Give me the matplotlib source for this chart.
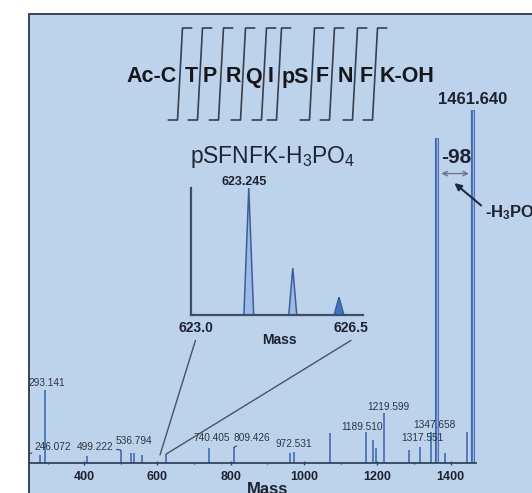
import numpy as np
import matplotlib
matplotlib.use('Agg')
import matplotlib.pyplot as plt
from matplotlib.patches import Rectangle, ConnectionPatch

plt.rcParams['font.family'] = ['Liberation Sans', 'DejaVu Sans']
plt.rcParams['mathtext.fontset'] = 'custom'
plt.rcParams['mathtext.rm'] = 'Liberation Sans'
plt.rcParams['mathtext.bf'] = 'Liberation Sans:bold'
plt.rcParams['mathtext.it'] = 'Liberation Sans:italic'

# ---- data ----
peak_mz = [246.072, 279.5, 293.141, 407.8, 499.222, 527.9, 536.794, 557.9, 623.245,
           740.405, 809.426, 962.0, 972.531, 1071.0, 1169.5, 1189.510, 1196.8,
           1219.599, 1286.9, 1317.551, 1347.658, 1363.640, 1385.1, 1445.2, 1461.640]
peak_int = [2.5, 2.3, 20.7, 2.0, 3.7, 2.8, 2.8, 2.3, 2.5,
            4.2, 4.5, 2.8, 3.1, 8.5, 8.8, 6.5, 4.2,
            14.2, 3.7, 4.5, 8.8, 92.0, 2.8, 8.8, 100.0]

label_mz = [246.072, 293.141, 499.222, 536.794, 740.405, 809.426, 972.531,
            1189.510, 1219.599, 1317.551, 1347.658]

parent_mz = 1461.640
neutral_loss = 98

x_ticks = [400, 600, 800, 1000, 1200, 1400]
x_minor = [300, 500, 700, 900, 1100, 1300]

# zoomed isotope cluster (inset)
inset_mz = [624.20, 625.19, 626.23]
inset_int = [100, 37, 14]
inset_halfwidth = [0.11, 0.09, 0.11]
inset_ticks = [623.0, 626.5]
inset_peak_label = '623.245'
zoom_from = 607.0

residues = ['Ac-C', 'T', 'P', 'R', 'Q', 'I', 'pS', 'F', 'N', 'F', 'K-OH']

# ---- layout (pixels) ----
W, H = 532, 493
residue_x = [152, 191, 210, 233, 253, 271, 295, 322, 345, 366, 407]
bracket_x = [180, 200, 221, 243, 264, 279, 312, 332, 355, 375]
label_off = [(25, 7), (2, 7), (-25, 3), (0, 12), (3, 10), (18, 9), (0, 8),
             (-11, 13), (4, 6), (2, 9), (3, 7)]
label_leader = [True, False, True, False, False, True, False, False, False, False, False]

panel_col = '#bdd3ec'
edge_col = '#34465e'
peak_col = '#4d73b8'
text_col = '#1c2230'

fig = plt.figure(figsize=(W / 100, H / 100), dpi=100)
fig.patch.set_facecolor('white')

# light blue panel
fig.patches.append(Rectangle((29 / W, -0.1), 1.2, 1 - 14 / H + 0.1, transform=fig.transFigure,
                             facecolor=panel_col, edgecolor=edge_col, lw=1.4, zorder=-1))

# ---- main spectrum ----
ax = fig.add_axes([29 / W, 30 / H, 503 / W, 449 / H])
ax.set_facecolor('none')
ax.set_xlim(249.3, 249.3 + 503 / 0.3663)
ax.set_ylim(0, 127.2)

mz = np.array(peak_mz)
inten = np.array(peak_int)
big = inten > 50
ax.vlines(mz[~big], 0, inten[~big], color=peak_col, lw=1.3)
ax.vlines(mz[big], 0, inten[big], color='#4468ad', lw=3.0)
ax.vlines(mz[big], 0, inten[big], color='#8eb0e2', lw=1.0)

for s in ['left', 'top', 'right']:
    ax.spines[s].set_visible(False)
ax.spines['bottom'].set_color(edge_col)
ax.spines['bottom'].set_linewidth(1.3)
ax.spines['bottom'].set_bounds(249.3, 1470)
ax.set_yticks([])
ax.set_xticks(x_ticks)
ax.set_xticks(x_minor, minor=True)
ax.tick_params(axis='x', which='major', length=3, width=1, direction='inout', color=edge_col,
               labelsize=9, pad=4, labelcolor=text_col)
ax.tick_params(axis='x', which='minor', length=2, width=1, direction='inout', color=edge_col)
for t in ax.get_xticklabels():
    t.set_fontweight('bold')
ax.set_xlabel('Mass', fontsize=12, fontweight='bold', color=text_col)
ax.xaxis.set_label_coords(0.475, -0.042)

# peak labels
for m, off, lead in zip(label_mz, label_off, label_leader):
    h = peak_int[peak_mz.index(m)]
    props = dict(arrowstyle='-', color='#3a4252', lw=0.8, shrinkA=0, shrinkB=0) if lead else None
    a = ax.annotate(f'{m:.3f}', xy=(m, h), xytext=off, textcoords='offset pixels',
                    ha='center', va='center', fontsize=7.3, color='#2e3440',
                    arrowprops=props, annotation_clip=False)
    if lead:
        a.arrow_patch.set_clip_box(ax.bbox)
        a.arrow_patch.set_clip_on(True)

ax.annotate(f'{parent_mz:.3f}', xy=(parent_mz, 100), xytext=(0, 11), textcoords='offset pixels',
            ha='center', va='center', fontsize=12, fontweight='bold', color=text_col)

# neutral loss marker
ax.annotate('', xy=(parent_mz, 82), xytext=(parent_mz - neutral_loss, 82),
            arrowprops=dict(arrowstyle='<->', color='#6d7785', lw=1, shrinkA=3, shrinkB=3,
                            mutation_scale=8))
ax.text(parent_mz - neutral_loss / 2 + 4, 86.6, f'-{neutral_loss}', ha='center', va='center',
        fontsize=15, fontweight='bold', color=text_col)
ax.annotate(r'-H$_\mathbf{3}$PO$_\mathbf{4}$', xy=(parent_mz - neutral_loss / 2 - 2, 79.3),
            xytext=(1494, 71), ha='left', va='center', fontsize=12, fontweight='bold',
            color=text_col,
            arrowprops=dict(arrowstyle='-|>', color='#1f2a44', lw=1.5, mutation_scale=10,
                            shrinkA=1, shrinkB=0, relpos=(0, 0.7)))

# ---- inset: isotope cluster ----
ins = fig.add_axes([191 / W, (H - 315) / H, 172 / W, 127 / H])
ins.set_facecolor('none')
ins.set_xlim(622.9, 626.77)
ins.set_ylim(0, 100)
fills = ['#9dbbe6', '#9dbbe6', '#3f72c9']
for c, h, w, fc in zip(inset_mz, inset_int, inset_halfwidth, fills):
    ins.fill([c - w, c, c + w], [0, h, 0], facecolor=fc, edgecolor='#3d5d99', lw=1.1)
for s in ['top', 'right']:
    ins.spines[s].set_visible(False)
for s in ['left', 'bottom']:
    ins.spines[s].set_color('#3c4e6a')
    ins.spines[s].set_linewidth(1.6)
ins.set_yticks([])
ins.set_xticks(inset_ticks, labels=[f'{t:.1f}' for t in inset_ticks])
ins.tick_params(axis='x', length=0, pad=4, labelsize=10, labelcolor=text_col)
for t in ins.get_xticklabels():
    t.set_fontweight('bold')
ins.set_xlabel('Mass', fontsize=10, fontweight='bold', color=text_col)
ins.xaxis.set_label_coords(0.517, -0.14)
ins.annotate(inset_peak_label, xy=(inset_mz[0], inset_int[0]), xytext=(-5, 6),
             textcoords='offset pixels', ha='center', va='center', fontsize=9,
             fontweight='bold', color=text_col, annotation_clip=False)

# connectors from inset to the main spectrum
i623 = peak_mz.index(623.245)
for xa, xb, yb in [(inset_ticks[0], zoom_from, 2.3), (inset_ticks[1], 623.245, peak_int[i623])]:
    con = ConnectionPatch(xyA=(xa, -0.2), coordsA=ins.get_xaxis_transform(),
                          xyB=(xb, yb), coordsB=ax.transData, color='#4b5262', lw=1)
    fig.add_artist(con)

# ---- overlay: sequence and fragment brackets ----
ov = fig.add_axes([0, 0, 1, 1])
ov.set_xlim(0, W)
ov.set_ylim(H, 0)
ov.axis('off')
ov.patch.set_alpha(0)

for r, x in zip(residues, residue_x):
    ov.text(x, 77, r, ha='center', va='center', fontsize=15.5, fontweight='bold', color='#15171c')
for x in bracket_x:
    ov.plot([x - 11.5, x - 2.5, x + 2.5, x + 11.5], [120, 120, 28, 28], color='#3a3f4a', lw=1.2)

ov.text(273, 157, r'pSFNFK-H$_3$PO$_4$', ha='center', va='center', fontsize=16.5, color='#1f2532')

fig.savefig('out.png', dpi=100)
